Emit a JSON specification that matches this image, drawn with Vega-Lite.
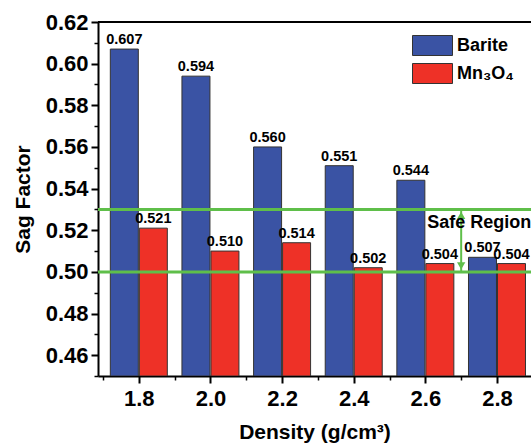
{
  "$schema": "https://vega.github.io/schema/vega-lite/v6.json",
  "width": 433,
  "height": 354,
  "autosize": {"type": "none"},
  "padding": {"left": 98, "top": 22, "right": 0, "bottom": 68},
  "background": "white",
  "config": {
    "view": {"stroke": null},
    "font": "Liberation Sans",
    "axis": {
      "grid": false,
      "domainColor": "black",
      "domainWidth": 2,
      "tickColor": "black",
      "tickWidth": 2,
      "tickSize": 7,
      "labelFont": "Liberation Sans",
      "labelFontWeight": "bold",
      "labelFontSize": 22,
      "labelColor": "black",
      "labelOverlap": false,
      "titleFont": "Liberation Sans",
      "titleFontWeight": "bold",
      "titleFontSize": 21,
      "titleColor": "black"
    }
  },
  "resolve": {"axis": {"x": "independent", "y": "independent"}},
  "datasets": {
    "sag": [
      {"density": 1.8, "material": "Barite", "sag": 0.607},
      {"density": 2.0, "material": "Barite", "sag": 0.594},
      {"density": 2.2, "material": "Barite", "sag": 0.560},
      {"density": 2.4, "material": "Barite", "sag": 0.551},
      {"density": 2.6, "material": "Barite", "sag": 0.544},
      {"density": 2.8, "material": "Barite", "sag": 0.507},
      {"density": 1.8, "material": "Mn₃O₄", "sag": 0.521},
      {"density": 2.0, "material": "Mn₃O₄", "sag": 0.510},
      {"density": 2.2, "material": "Mn₃O₄", "sag": 0.514},
      {"density": 2.4, "material": "Mn₃O₄", "sag": 0.502},
      {"density": 2.6, "material": "Mn₃O₄", "sag": 0.504},
      {"density": 2.8, "material": "Mn₃O₄", "sag": 0.504}
    ],
    "limits": [{"level": 0.50}, {"level": 0.53}],
    "frame": [{"level": 0.62}],
    "arrow": [{"density": 2.7, "lo": 0.50, "hi": 0.53}],
    "note": [{"density": 2.605, "sag": 0.521, "label": "Safe Region"}]
  },
  "layer": [
    {
      "data": {"name": "sag"},
      "transform": [{"filter": "datum.material == 'Barite'"}],
      "mark": {"type": "bar", "width": 28, "xOffset": -14.5, "stroke": "#333333", "strokeWidth": 1, "clip": true},
      "encoding": {
        "x": {
          "field": "density", "type": "quantitative",
          "scale": {"domain": [1.7, 2.881], "nice": false, "zero": false},
          "axis": {
            "title": "Density (g/cm³)",
            "orient": "bottom",
            "values": [1.8, 2.0, 2.2, 2.4, 2.6, 2.8],
            "format": ".1f",
            "labelPadding": 5,
            "titlePadding": 12
          }
        },
        "y": {
          "field": "sag", "type": "quantitative",
          "scale": {"domain": [0.45, 0.62], "nice": false, "zero": false},
          "axis": {
            "title": "Sag Factor",
            "orient": "left",
            "values": [0.46, 0.48, 0.50, 0.52, 0.54, 0.56, 0.58, 0.60, 0.62],
            "format": ".2f",
            "labelPadding": 3,
            "titlePadding": 12
          }
        },
        "y2": {"datum": 0.45},
        "color": {
          "field": "material", "type": "nominal",
          "scale": {"domain": ["Barite", "Mn₃O₄"], "range": ["#3a53a4", "#ee3127"]},
          "legend": {
            "title": null,
            "orient": "none",
            "legendX": 324,
            "legendY": 13,
            "padding": 0,
            "symbolType": "M-2,-1H2V1H-2Z",
            "symbolSize": 400,
            "symbolStrokeColor": "#333333",
            "symbolStrokeWidth": 1,
            "symbolOpacity": 1,
            "labelFont": "Liberation Sans",
            "labelFontSize": 18,
            "labelFontWeight": "bold",
            "labelColor": "black",
            "labelOffset": 14,
            "rowPadding": 3
          }
        }
      }
    },
    {
      "data": {"name": "sag"},
      "transform": [{"filter": "datum.material != 'Barite'"}],
      "mark": {"type": "bar", "width": 28, "xOffset": 14.5, "stroke": "#333333", "strokeWidth": 1, "clip": true},
      "encoding": {
        "x": {"field": "density", "type": "quantitative", "axis": null},
        "y": {"field": "sag", "type": "quantitative", "axis": null},
        "y2": {"datum": 0.45},
        "color": {"field": "material", "type": "nominal"}
      }
    },
    {
      "data": {"name": "sag"},
      "transform": [{"filter": "datum.material == 'Barite'"}],
      "mark": {"type": "text", "xOffset": -14.5, "dy": -2, "baseline": "bottom", "fontSize": 14.5, "fontWeight": "bold", "color": "black", "font": "Liberation Sans"},
      "encoding": {
        "x": {"field": "density", "type": "quantitative", "axis": null},
        "y": {"field": "sag", "type": "quantitative", "axis": null},
        "text": {"field": "sag", "type": "quantitative", "format": ".3f"}
      }
    },
    {
      "data": {"name": "sag"},
      "transform": [{"filter": "datum.material != 'Barite'"}],
      "mark": {"type": "text", "xOffset": 14.5, "dy": -2, "baseline": "bottom", "fontSize": 14.5, "fontWeight": "bold", "color": "black", "font": "Liberation Sans"},
      "encoding": {
        "x": {"field": "density", "type": "quantitative", "axis": null},
        "y": {"field": "sag", "type": "quantitative", "axis": null},
        "text": {"field": "sag", "type": "quantitative", "format": ".3f"}
      }
    },
    {
      "data": {"name": "limits"},
      "mark": {"type": "rule", "color": "#5fbf4a", "strokeWidth": 3},
      "encoding": {"y": {"field": "level", "type": "quantitative", "axis": null}}
    },
    {
      "data": {"name": "arrow"},
      "mark": {"type": "rule", "color": "#5fbf4a", "strokeWidth": 2},
      "encoding": {
        "x": {
          "field": "density", "type": "quantitative",
          "axis": {"orient": "bottom", "values": [1.7, 1.9, 2.1, 2.3, 2.5, 2.7], "labels": false, "domain": false, "title": null, "tickSize": 4, "tickWidth": 1.5}
        },
        "y": {
          "field": "lo", "type": "quantitative",
          "axis": {"orient": "left", "values": [0.45, 0.47, 0.49, 0.51, 0.53, 0.55, 0.57, 0.59, 0.61], "labels": false, "domain": false, "title": null, "tickSize": 4, "tickWidth": 1.5}
        },
        "y2": {"field": "hi"}
      }
    },
    {
      "data": {"name": "arrow"},
      "mark": {"type": "point", "shape": "triangle-up", "filled": true, "color": "#5fbf4a", "size": 70, "yOffset": 6, "opacity": 1},
      "encoding": {
        "x": {"field": "density", "type": "quantitative", "axis": null},
        "y": {"field": "hi", "type": "quantitative", "axis": null}
      }
    },
    {
      "data": {"name": "arrow"},
      "mark": {"type": "point", "shape": "triangle-down", "filled": true, "color": "#5fbf4a", "size": 70, "yOffset": -6, "opacity": 1},
      "encoding": {
        "x": {"field": "density", "type": "quantitative", "axis": null},
        "y": {"field": "lo", "type": "quantitative", "axis": null}
      }
    },
    {
      "data": {"name": "note"},
      "mark": {"type": "text", "align": "left", "baseline": "alphabetic", "fontSize": 18, "fontWeight": "bold", "color": "black", "font": "Liberation Sans"},
      "encoding": {
        "x": {"field": "density", "type": "quantitative", "axis": null},
        "y": {"field": "sag", "type": "quantitative", "axis": null},
        "text": {"field": "label"}
      }
    },
    {
      "data": {"name": "frame"},
      "mark": {"type": "rule", "color": "black", "strokeWidth": 2},
      "encoding": {"y": {"field": "level", "type": "quantitative", "axis": null}}
    }
  ]
}
